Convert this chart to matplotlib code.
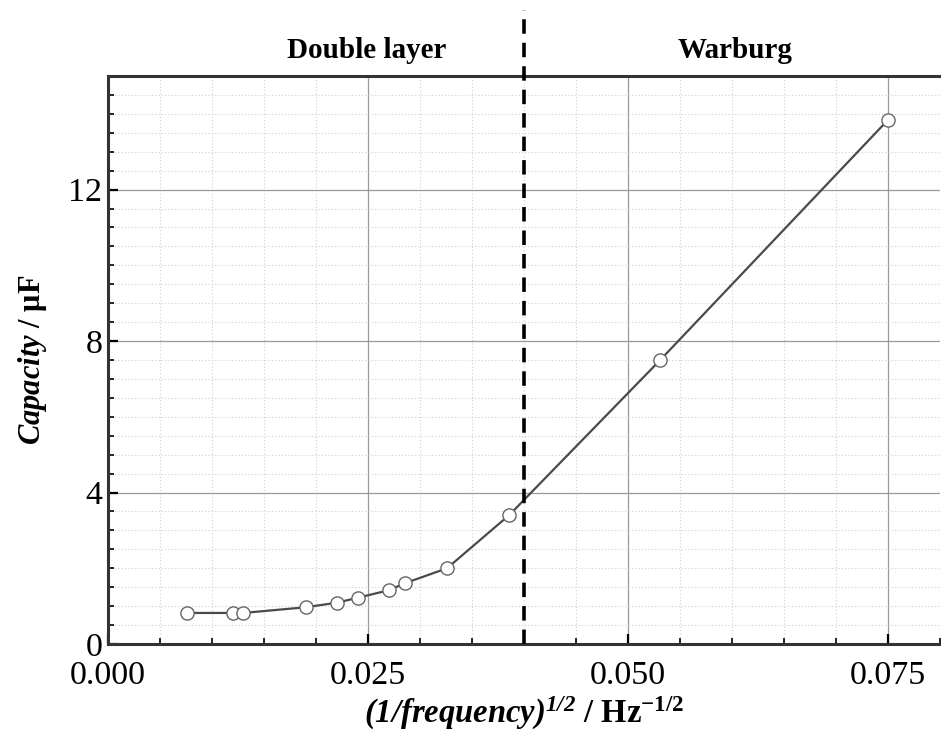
import numpy as np
import matplotlib
matplotlib.use("Agg")
import matplotlib.pyplot as plt
import matplotlib.transforms as mtransforms
from matplotlib.ticker import MultipleLocator

# data
inv_sqrt_freq = [0.0076, 0.0120, 0.0130, 0.0190, 0.0220, 0.0240, 0.0270, 0.0286,
                 0.0326, 0.0386, 0.0531, 0.0750]
capacity = [0.82, 0.82, 0.82, 0.97, 1.09, 1.22, 1.42, 1.61, 2.00, 3.41, 7.50, 13.84]
boundary_x = 0.040
region_labels = ["Double layer", "Warburg"]
region_label_x = [0.0249, 0.0603]

plt.rcParams['font.family'] = ['Liberation Serif', 'DejaVu Serif']
plt.rcParams['mathtext.fontset'] = 'custom'
plt.rcParams['mathtext.rm'] = 'Liberation Serif:italic:bold'
plt.rcParams['mathtext.it'] = 'Liberation Serif:italic:bold'
plt.rcParams['mathtext.bf'] = 'Liberation Serif:bold'

fig = plt.figure(figsize=(9.41, 7.49), dpi=100)
ax = fig.add_axes([108 / 941, 1 - 644 / 749, 832 / 941, 568 / 749])

ax.set_xlim(0, 0.08)
ax.set_ylim(0, 15)
ax.xaxis.set_major_locator(MultipleLocator(0.025))
ax.xaxis.set_minor_locator(MultipleLocator(0.005))
ax.yaxis.set_major_locator(MultipleLocator(4))
ax.yaxis.set_minor_locator(MultipleLocator(0.5))
ax.set_xticks([0, 0.025, 0.05, 0.075])
ax.set_xticklabels(["0.000", "0.025", "0.050", "0.075"])

ax.grid(which='major', color='#9a9a9a', lw=0.9, ls='-')
ax.grid(which='minor', color='#cfcfcf', lw=0.8, ls=(0, (1, 2)))
ax.set_axisbelow(True)

ax.tick_params(which='both', direction='in', top=False, right=False,
               labelsize=24.5, colors='black')
ax.tick_params(axis='x', pad=12)
ax.tick_params(axis='y', pad=4)
ax.tick_params(which='major', length=7, width=1.6)
ax.tick_params(which='minor', length=4, width=1.2)

for s in ['left', 'bottom', 'top']:
    ax.spines[s].set_linewidth(2.2)
    ax.spines[s].set_color('#333333')
ax.spines['right'].set_visible(False)

ax.plot(inv_sqrt_freq, capacity, color='#4a4a4a', lw=1.6, marker='o', ms=9.5,
        mfc='white', mec='#666666', mew=1.0, zorder=3)

# boundary line reaching above the frame
ax.axvline(boundary_x, ymin=0, ymax=(644 - 10) / 568, color='black', lw=2.6,
           ls=(0, (4, 2.5)), clip_on=False, zorder=4)

for lab, xl in zip(region_labels, region_label_x):
    ax.text(xl, 1.045, lab, transform=ax.get_xaxis_transform(), ha='center',
            va='center', fontsize=21, fontweight='bold')

ax.set_xlabel(r'$(1/frequency)^{1/2}$ / Hz$^{\mathbf{-1/2}}$',
              fontsize=23.5, fontweight='bold', labelpad=3)
ax.set_ylabel(r'$Capacity$ / μF', fontsize=22, fontweight='bold', labelpad=14)

# nudge the y "0" up a little so it clears "0.000"
fig.canvas.draw()
lab0 = ax.get_yticklabels()[0]
lab0.set_transform(lab0.get_transform() + mtransforms.ScaledTranslation(0, 4 / 100, fig.dpi_scale_trans))

fig.savefig("out.png", dpi=100)
